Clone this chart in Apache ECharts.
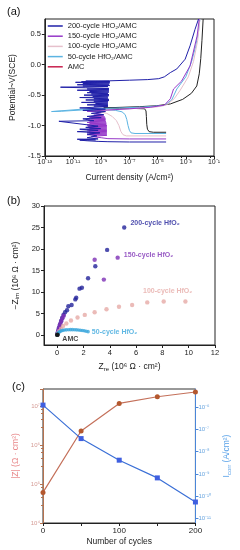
<!DOCTYPE html>
<html><head><meta charset="utf-8">
<script src="https://cdn.jsdelivr.net/npm/echarts@6/dist/echarts.min.js"></script>
<style>html,body{margin:0;padding:0;background:#fff}#c{width:240px;height:550px}</style>
</head><body><div id="c"></div>
<script>
// ---------- Panel (a): Tafel curves, points are [current density (A/cm²), potential (V vs SCE)]
const tafelNames = ['200-cycle HfO₂/AMC','150-cycle HfO₂/AMC','100-cycle HfO₂/AMC','50-cycle HfO₂/AMC','AMC'];
const tafel200 = [[4e-5,-1.27],[1e-7,-1.27],[3e-9,-1.265],[6e-10,-1.26],[1e-10,-1.25],[3e-11,-1.24],[4e-10,-1.235],[2e-11,-1.225],[6e-10,-1.22],[1e-10,-1.2],[5e-10,-1.17],[1e-10,-1.14],[8e-10,-1.12],[2e-11,-1.1],[6e-10,-1.08],[3e-11,-1.06],[9e-10,-1.05],[8e-11,-1.03],[6e-10,-1.01],[1e-12,-0.93],[3e-10,-0.92],[5e-11,-0.89],[1e-9,-0.87],[1e-10,-0.85],[1.5e-9,-0.82],[2e-10,-0.8],[2e-9,-0.77],[5e-11,-0.75],[2e-9,-0.73],[3e-11,-0.71],[3e-9,-0.69],[3e-10,-0.68],[3e-9,-0.67],[1e-10,-0.66],[3e-9,-0.65],[4e-10,-0.64],[3e-9,-0.63],[4e-11,-0.62],[3e-9,-0.61],[3e-10,-0.6],[3.5e-9,-0.59],[8e-11,-0.58],[3.5e-9,-0.57],[3e-10,-0.56],[3e-9,-0.55],[3e-11,-0.54],[3e-9,-0.53],[2.5e-10,-0.52],[3.5e-9,-0.51],[6e-11,-0.5],[3.5e-9,-0.49],[2e-10,-0.48],[3e-9,-0.47],[1e-10,-0.46],[3.5e-9,-0.45],[1.5e-10,-0.44],[3.5e-9,-0.43],[2e-11,-0.42],[3.5e-9,-0.41],[1e-10,-0.4],[3.5e-9,-0.39],[8e-11,-0.38],[1.3e-12,-0.37],[3e-9,-0.36],[5e-11,-0.35],[4e-9,-0.34],[2e-11,-0.33],[3.5e-9,-0.32],[5e-11,-0.31],[4e-9,-0.3],[1.5e-11,-0.29],[4e-9,-0.285],[4e-11,-0.28],[4e-9,-0.275],[8e-11,-0.27],[4e-9,-0.265],[1e-7,-0.255],[2e-6,-0.245],[1.2e-5,-0.23],[3e-5,-0.2],[8e-5,-0.13],[2.3e-4,-0.07],[9e-4,0.09],[2e-3,0.31],[4.5e-3,0.58],[8e-3,0.75]];
const tafel150 = [[4e-5,-1.22],[1e-7,-1.22],[3e-9,-1.215],[1e-9,-1.2],[2e-10,-1.18],[2.5e-9,-1.16],[1e-10,-1.15],[2.5e-9,-1.14],[1.5e-10,-1.13],[2.5e-9,-1.12],[1e-10,-1.11],[2.5e-9,-1.1],[1.3e-10,-1.09],[2.5e-9,-1.08],[1e-10,-1.07],[2.5e-9,-1.06],[1.5e-10,-1.05],[2.5e-9,-1.04],[1e-10,-1.03],[2.5e-9,-1.02],[1.2e-10,-1.01],[2.5e-9,-1.0],[1e-10,-0.99],[2.3e-9,-0.98],[1.5e-10,-0.97],[2.3e-9,-0.96],[1e-10,-0.95],[2.2e-9,-0.94],[1.5e-10,-0.93],[2e-9,-0.92],[1.2e-10,-0.91],[2e-9,-0.9],[2e-10,-0.89],[2e-9,-0.88],[1.5e-10,-0.87],[1.8e-9,-0.86],[2e-10,-0.85],[1.5e-9,-0.84],[3e-10,-0.83],[1.2e-9,-0.82],[4e-10,-0.8],[1e-9,-0.78],[1e-10,-0.765],[3e-9,-0.745],[1e-7,-0.725],[3e-6,-0.7],[3e-5,-0.665],[8e-5,-0.56],[1.35e-4,-0.4],[5e-4,-0.27],[2e-3,-0.02],[6.3e-3,0.47],[9e-3,0.75]];
const tafel100 = [[4e-5,-1.17],[6e-8,-1.17],[3.5e-8,-1.15],[2.5e-8,-1.1],[1.8e-8,-1.0],[1.2e-8,-0.92],[6e-9,-0.85],[2.5e-9,-0.8],[8e-10,-0.775],[2e-10,-0.765],[1e-9,-0.75],[2e-8,-0.735],[5e-7,-0.715],[8e-6,-0.695],[4e-5,-0.665],[1.5e-4,-0.56],[4e-4,-0.42],[1.5e-3,-0.2],[3.5e-3,0.05],[7e-3,0.4],[1e-2,0.75]];
const tafel50 = [[4e-5,-1.13],[2.5e-7,-1.13],[1.3e-7,-1.12],[1e-7,-1.08],[8e-8,-1.0],[6.5e-8,-0.9],[5e-8,-0.82],[3e-8,-0.775],[1e-8,-0.75],[2e-9,-0.74],[3e-10,-0.735],[4e-11,-0.745],[1.5e-12,-0.765],[3e-13,-0.77],[5e-11,-0.73],[1e-9,-0.72],[3e-8,-0.71],[1e-6,-0.695],[3e-5,-0.67],[1e-4,-0.58],[2.3e-4,-0.4],[1e-3,-0.2],[2.5e-3,0.04],[5e-3,0.3],[8e-3,0.55],[1e-2,0.75]];
const tafelAMC = [[4e-5,-1.11],[5e-6,-1.11],[2.5e-6,-1.1],[1.9e-6,-1.06],[1.7e-6,-0.98],[1.6e-6,-0.85],[1.5e-6,-0.76],[1.2e-6,-0.725],[3e-7,-0.72],[2e-8,-0.715],[1.5e-9,-0.71],[3e-8,-0.7],[5e-7,-0.69],[8e-6,-0.675],[8e-5,-0.645],[6e-4,-0.57],[2.5e-3,-0.47],[6e-3,-0.35],[9e-3,-0.15],[1.15e-2,0.1],[1.4e-2,0.4],[1.7e-2,0.75]];
const tafelYTicks = [-1.5,-1.0,-0.5,0.0,0.5];

// ---------- Panel (b): Nyquist, [Zre, -Zim] in 10^6 Ω·cm²
const nyqNames = ['200-cycle HfO₂','150-cycle HfO₂','100-cycle HfO₂','50-cycle HfO₂','AMC'];
const nyq200 = [[0.02,0.2],[0.05,0.6],[0.1,1.2],[0.15,1.8],[0.22,2.5],[0.3,3.3],[0.38,4.0],[0.48,4.7],[0.6,5.3],[0.75,5.8],[0.85,6.7],[1.1,7.0],[1.38,8.3],[1.45,8.7],[1.7,10.8],[1.88,11.0],[2.35,13.2],[2.9,16.0],[3.8,19.8],[5.1,25.0]];
const nyq150 = [[0.03,0.3],[0.06,0.7],[0.1,1.1],[0.14,1.6],[0.19,2.1],[0.25,2.7],[0.32,3.3],[0.4,3.9],[0.5,4.5],[2.85,17.5],[3.55,12.9],[4.6,18.0]];
const nyq100 = [[0.03,0.2],[0.08,0.5],[0.15,0.9],[0.3,1.5],[0.45,2.1],[0.7,2.7],[1.05,3.4],[1.55,4.1],[2.1,4.7],[2.85,5.3],[3.75,6.0],[4.7,6.6],[5.7,7.0],[6.85,7.6],[8.1,7.8],[9.75,7.8]];
const nyq50 = [[0.01,0.05],[0.03,0.2],[0.06,0.4],[0.1,0.55],[0.16,0.72],[0.24,0.88],[0.33,1.0],[0.44,1.1],[0.56,1.17],[0.7,1.22],[0.85,1.25],[1.0,1.27],[1.15,1.27],[1.3,1.25],[1.45,1.22],[1.6,1.17],[1.75,1.12],[1.9,1.06],[2.05,1.0],[2.2,0.9],[2.35,0.8]];
const nyqAMC = [[0.0,0.05],[0.03,0.1]];
const nyqXTicks = [0,2,4,6,8,10,12];
const nyqYTicks = [0,5,10,15,20,25,30];

// ---------- Panel (c): |Z| and Icorr vs number of cycles
const cycles = [0,50,100,150,200];
const zModulus = [6.1e4,2.3e6,1.17e7,1.74e7,2.3e7];
const iCorr = [1.2e-6,3.8e-8,4.1e-9,6.6e-10,5.5e-11];
const cycleTicks = [0,100,200];
const iTicks = [1e-11,1e-10,1e-9,1e-8,1e-7,1e-6];

const FONT = '"Liberation Sans", Arial, sans-serif';
const SUP = {'-':'⁻','0':'⁰','1':'¹','2':'²','3':'³','4':'⁴','5':'⁵','6':'⁶','7':'⁷','8':'⁸','9':'⁹'};
function pow10(v){const e=Math.log10(v);const r=Math.round(e);if(Math.abs(e-r)>1e-6)return '';return '10'+String(r).split('').map(c=>SUP[c]).join('');}

const tafelColors = ['#2020a8','#9638c8','#e6c0cc','#5cb4e2','#222222'];
const legendColors = ['#2a2aa0','#9a44c8','#e6c2cc','#5aaedc','#c8204e'];
const nyqColors = ['#22229a','#7d2fb5','#e6aaa6','#3aa6dc','#111111'];
const sub = {sub:{fontSize:6,verticalAlign:'bottom',padding:[5,0,0,0]}};

const tafelSets = [tafel200,tafel150,tafel100,tafel50,tafelAMC];
const tafelZ = [6,5,4,3,2];
const series = [];
tafelSets.forEach((d,i)=>series.push({type:'line',name:tafelNames[i],xAxisIndex:0,yAxisIndex:0,data:d,symbol:'none',z:tafelZ[i],
  lineStyle:{width:1,color:tafelColors[i]},itemStyle:{color:legendColors[i]}}));

const nyqSets = [nyq200,nyq150,nyq100,nyq50,nyqAMC];
const nyqLabelAt = [nyq200.length-1, nyq150.length-1, 14, nyq50.length-1, 0];
const nyqLabelCfg = [
  {position:'right',distance:4,offset:[0,-4]},
  {position:'right',distance:4,offset:[0,-3]},
  {position:'top',distance:5,offset:[4,0]},
  {position:'right',distance:2,offset:[0,0]},
  {position:'right',distance:3,offset:[0,4]}];
nyqSets.forEach((d,i)=>{
  const data = d.map((p,j)=> j===nyqLabelAt[i] ? {value:p,label:Object.assign({show:true,formatter:nyqNames[i],fontSize:7,fontWeight:'bold',color:nyqColors[i],fontFamily:FONT},nyqLabelCfg[i])} : p);
  series.push({type:'scatter',name:'nyq'+i,xAxisIndex:1,yAxisIndex:1,data:data,symbol:'circle',symbolSize:i===3?3.6:4.4,itemStyle:{color:nyqColors[i]}});
});

series.push({type:'line',name:'|Z|',xAxisIndex:2,yAxisIndex:2,data:cycles.map((c,i)=>[c,zModulus[i]]),symbol:'circle',symbolSize:5,
  lineStyle:{width:1.2,color:'#c4705a'},itemStyle:{color:'#b4582e'}});
series.push({type:'line',name:'Icorr',xAxisIndex:2,yAxisIndex:3,data:cycles.map((c,i)=>[c,iCorr[i]]),symbol:'rect',symbolSize:5,
  lineStyle:{width:1.2,color:'#3a6fd6'},itemStyle:{color:'#3f5fe0'}});

const axisBase = (c)=>({axisLine:{onZero:false,lineStyle:{color:c||'#222',width:1}},splitLine:{show:false},
  axisLabel:{color:'#222',fontSize:7.5,fontFamily:FONT},axisTick:{length:3,lineStyle:{color:c||'#222'}},
  nameLocation:'middle',nameTextStyle:{color:'#222',fontSize:8.5,fontFamily:FONT,rich:sub}});

const option = {
  animation:false,
  textStyle:{fontFamily:FONT},
  title:[
    {text:'(a)',left:2,top:1,textStyle:{fontSize:11,fontWeight:'normal',color:'#111',fontFamily:FONT}},
    {text:'(b)',left:2,top:190,textStyle:{fontSize:11,fontWeight:'normal',color:'#111',fontFamily:FONT}},
    {text:'(c)',left:7,top:376,textStyle:{fontSize:11,fontWeight:'normal',color:'#111',fontFamily:FONT}}
  ],
  legend:[{show:true,orient:'vertical',left:47,top:22,itemWidth:15,itemHeight:8,itemGap:2.2,padding:0,
    itemStyle:{opacity:0},lineStyle:{width:1.5},
    textStyle:{fontSize:7.5,color:'#222',fontFamily:FONT},
    data:tafelNames.map((n,i)=> i===4 ? {name:n,lineStyle:{color:legendColors[i]}} : n)}],
  grid:[
    {left:44,top:19,width:170,height:137,show:true,borderColor:'#222',borderWidth:1},
    {left:44,top:206,width:171,height:139,show:true,borderColor:'#222',borderWidth:1},
    {left:43,top:389,width:166,height:134,show:true,borderColor:'#333',borderWidth:1}
  ],
  xAxis:[
    Object.assign(axisBase(),{type:'log',gridIndex:0,min:1e-13,max:1e-1,interval:2,logBase:10,
      name:'Current density (A/cm²)',nameGap:17,
      axisLabel:{color:'#222',fontSize:7,fontFamily:FONT,margin:3,formatter:pow10},
      minorTick:{show:true,splitNumber:2,length:2}}),
    Object.assign(axisBase(),{type:'value',gridIndex:1,min:-1,max:12,
      name:'Z{sub|re} (10⁶ Ω · cm²)',nameGap:16,
      axisLabel:{color:'#222',fontSize:7.5,fontFamily:FONT,margin:4,customValues:nyqXTicks},
      axisTick:{length:3,customValues:nyqXTicks}}),
    Object.assign(axisBase(),{type:'value',gridIndex:2,min:0,max:200,
      name:'Number of cycles',nameGap:14,
      axisLabel:{color:'#222',fontSize:8,fontFamily:FONT,margin:4,customValues:cycleTicks},
      axisTick:{length:3,customValues:cycles}})
  ],
  yAxis:[
    Object.assign(axisBase(),{type:'value',gridIndex:0,min:-1.5,max:0.75,
      name:'Potential~V(SCE)',nameGap:22,
      axisLabel:{color:'#222',fontSize:7.5,fontFamily:FONT,margin:4,customValues:tafelYTicks,formatter:v=>v.toFixed(1)},
      axisTick:{length:3,customValues:tafelYTicks}}),
    Object.assign(axisBase(),{type:'value',gridIndex:1,min:-2.3,max:30,
      name:'−Z{sub|im} (10⁶ Ω · cm²)',nameGap:16,
      axisLabel:{color:'#222',fontSize:7.5,fontFamily:FONT,margin:4,customValues:nyqYTicks},
      axisTick:{length:3,customValues:nyqYTicks}}),
    Object.assign(axisBase('#b5724f'),{type:'log',gridIndex:2,min:1e4,max:2.75e7,interval:1,logBase:10,
      name:'|Z| (Ω · cm²)',nameGap:16,nameTextStyle:{color:'#e8888a',fontSize:8.5,fontFamily:FONT},
      axisLabel:{color:'#d49a94',fontSize:6,fontFamily:FONT,margin:3,formatter:pow10},
      minorTick:{show:true,splitNumber:5,length:2,lineStyle:{color:'#b5724f'}}}),
    Object.assign(axisBase('#4a86d8'),{type:'log',gridIndex:2,position:'right',min:Math.pow(10,-11.2),max:Math.pow(10,-5.2),logBase:10,
      name:'I{sub|corr} (A/cm²)',nameGap:16,nameTextStyle:{color:'#5aa2e8',fontSize:8.5,fontFamily:FONT,rich:sub},
      axisLabel:{color:'#6aa6e0',fontSize:6,fontFamily:FONT,margin:3,formatter:pow10,customValues:iTicks},
      axisTick:{length:3,customValues:iTicks,lineStyle:{color:'#4a86d8'}}})
  ],
  series:series
};
const chart = echarts.init(document.getElementById('c'));
chart.setOption(option);
</script></body></html>
